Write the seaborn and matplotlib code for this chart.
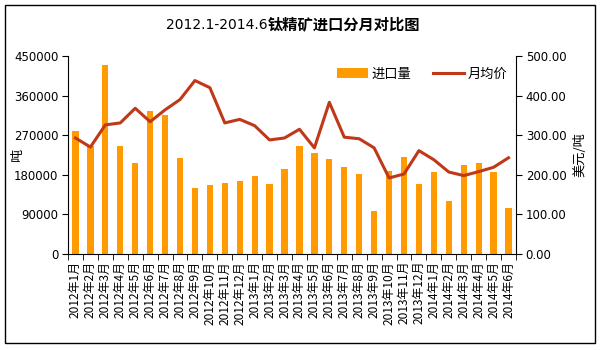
import matplotlib
matplotlib.use("Agg")
import matplotlib.pyplot as plt
import seaborn as sns
import pandas as pd
import numpy as np
from matplotlib.patches import Rectangle
from matplotlib.lines import Line2D
from matplotlib.patches import Patch

months = ["2012年1月", "2012年2月", "2012年3月", "2012年4月", "2012年5月", "2012年6月",
          "2012年7月", "2012年8月", "2012年9月", "2012年10月", "2012年11月", "2012年12月",
          "2013年1月", "2013年2月", "2013年3月", "2013年4月", "2013年5月", "2013年6月",
          "2013年7月", "2013年8月", "2013年9月", "2013年10月", "2013年11月", "2013年12月",
          "2014年1月", "2014年2月", "2014年3月", "2014年4月", "2014年5月", "2014年6月"]
imports = [280000, 245000, 430000, 245000, 206000, 325000,
           316000, 219000, 151000, 157000, 161000, 166000,
           178000, 159000, 194000, 245000, 230000, 216000,
           198000, 182000, 98000, 188000, 221000, 159000,
           186000, 120000, 202000, 206000, 186000, 105000]
prices = [293, 270, 326, 331, 368, 334,
          364, 390, 438, 420, 331, 340,
          324, 288, 293, 315, 268, 383,
          295, 291, 268, 192, 202, 261,
          238, 207, 198, 208, 219, 243]
left_ticks = [0, 90000, 180000, 270000, 360000, 450000]
right_ticks = [0, 100, 200, 300, 400, 500]

plt.rcParams['font.family'] = ['Noto Sans CJK SC', 'DejaVu Sans']
plt.rcParams['axes.unicode_minus'] = False

df = pd.DataFrame({"month": months, "imports": imports, "price": prices})
df["idx"] = np.arange(len(months))

fig = plt.figure(figsize=(6.03, 3.5), dpi=100)
ax = fig.add_axes([68/603, 1-254/350, (516-68)/603, (254-56)/350])

bar_color = "#FF9A00"
line_color = "#C0381A"

sns.barplot(data=df, x="month", y="imports", color=bar_color, saturation=1,
            width=0.42, ax=ax)
ax.set_xlim(-0.5, len(months)-0.5)
ax.set_ylim(0, 450000)
ax.set_yticks(left_ticks)
ax.set_yticklabels([str(v) for v in left_ticks], fontsize=8.5, family='DejaVu Sans')
ax.set_xticks(range(len(months)))
ax.set_xticklabels(months, rotation=90, fontsize=8.6)
ax.tick_params(axis='x', length=0, pad=5)
ax.set_xticks(np.arange(-0.5, len(months)), minor=True)
ax.tick_params(axis='x', which='minor', length=4, direction='out', color='black')
ax.tick_params(axis='y', length=4, direction='out', color='black', pad=3)
ax.set_xlabel("")
ax.set_ylabel("")
for s in ["top", "right"]:
    ax.spines[s].set_visible(False)
for s in ["left", "bottom"]:
    ax.spines[s].set_color("black")
    ax.spines[s].set_linewidth(0.8)
ax.set_facecolor("white")

ax2 = ax.twinx()
sns.lineplot(data=df, x="idx", y="price", color=line_color, linewidth=2.2, ax=ax2)
ax2.set_ylim(0, 500)
ax2.set_yticks(right_ticks)
ax2.set_yticklabels([f"{v:.2f}" for v in right_ticks], fontsize=8.5, family='DejaVu Sans')
ax2.tick_params(axis='y', length=4, direction='out', color='black', pad=3)
ax2.set_ylabel("")
ax2.set_xlim(-0.5, len(months)-0.5)
ax2.spines["top"].set_visible(False)
ax2.spines["left"].set_visible(False)
ax2.spines["bottom"].set_visible(False)
ax2.spines["right"].set_color("black")
ax2.spines["right"].set_linewidth(0.8)
ax2.set_xlabel("")

fig.text(18/603, 1-155/350, "吨", rotation=90, ha='center', va='center', fontsize=9.5)
fig.text(580/603, 1-155/350, "美元/吨", rotation=90, ha='center', va='center', fontsize=9.5)

handles = [Patch(facecolor=bar_color, edgecolor='none', label="进口量"),
           Line2D([0], [0], color=line_color, linewidth=2.2, label="月均价")]
ax2.legend(handles=handles, loc='center', bbox_to_anchor=((422-68)/448, (254-74)/198), ncol=2,
           frameon=False, fontsize=9.5, handlelength=2.4, columnspacing=1.6,
           handletextpad=0.25, borderpad=0)

fig.text(268/603, 1-29/350, "2012.1-2014.6", ha='right', va='baseline',
         fontsize=10, family='DejaVu Sans')
fig.text(268/603, 1-29/350, "钛精矿进口分月对比图", ha='left', va='baseline',
         fontsize=11, fontweight='bold')

fig.patches.append(Rectangle((5/603, 1-343/350), 590/603, 338/350, transform=fig.transFigure,
                             fill=False, edgecolor='black', linewidth=1.0))

fig.savefig("out.png", dpi=100, facecolor="white")
